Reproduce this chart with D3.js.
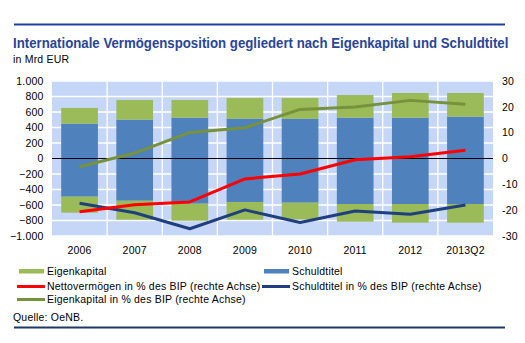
<!DOCTYPE html>
<html><head><meta charset="utf-8">
<script src="https://cdn.jsdelivr.net/npm/d3@7"></script>
<style>body{margin:0;background:#fff}svg{display:block;font-family:"Liberation Sans",Arial,sans-serif}</style>
</head><body><svg id="c" width="525" height="343"></svg>
<script>
const categories = ["2006","2007","2008","2009","2010","2011","2012","2013Q2"];
// Mrd EUR (left axis), stacked: positive (Aktiva) and negative (Passiva)
const schuldtitelAktiva   = [449, 501, 527, 514, 514, 527, 527, 540];
const eigenkapitalAktiva  = [203, 254, 228, 267, 267, 292, 318, 305];
const schuldtitelPassiva  = [-493, -545, -583, -561, -570, -587, -587, -587];
const eigenkapitalPassiva = [-206, -245, -220, -229, -216, -228, -241, -241];
// % des BIP (right axis)
const nettoPct        = [-20.6, -17.9, -16.8, -7.9, -6.0, -0.5, 0.7, 3.2];
const schuldtitelPct  = [-17.3, -21.0, -27.2, -19.9, -24.8, -20.3, -21.6, -18.0];
const eigenkapitalPct = [-3.2, 2.1, 10.1, 11.9, 19.0, 19.9, 22.5, 21.0];
const leftTicks  = [-1000,-800,-600,-400,-200,0,200,400,600,800,1000];
const rightTicks = [-30,-20,-10,0,10,20,30];

const C = {green:"#9bbb59", blue:"#4f81bd", red:"#ff0000", navy:"#1f3f7f", olive:"#76923c", bg:"#c6d6f6"};
const svg = d3.select("#c");
const L=52, R=493, T=81, B=236;
const x = d3.scaleBand().domain(categories).range([L,R]).padding(0);
const y = d3.scaleLinear().domain([-1000,1000]).range([B,T]);
const y2 = d3.scaleLinear().domain([-30,30]).range([B,T]);
const fmt = d => d3.format(",")(d).replace(/,/g,".");
const FS = 10.5, LS = 0.2;

// rules and titles
svg.append("rect").attr("x",14).attr("y",23.5).attr("width",491).attr("height",2).attr("fill","#1f3f9f");
const title = svg.append("text").attr("x",0).attr("y",0).attr("font-size",14).attr("font-weight","bold").attr("fill","#2a4596")
  .text("Internationale Vermögensposition gegliedert nach Eigenkapital und Schuldtitel");
const tw = title.node().getComputedTextLength();
title.attr("transform",`translate(13,47.5) scale(${Math.min(1,496/tw)},1)`);
svg.append("text").attr("x",13).attr("y",63).attr("font-size",FS).attr("letter-spacing",LS).attr("fill","#000").text("in Mrd EUR");

// plot bg
svg.append("rect").attr("x",L).attr("y",T).attr("width",R-L).attr("height",B-T).attr("fill",C.bg);
// grid
svg.append("g").selectAll("line").data(leftTicks.filter(t=>t!==0)).join("line")
  .attr("x1",L).attr("x2",R).attr("y1",d=>y(d)).attr("y2",d=>y(d)).attr("stroke","#fff").attr("stroke-width",1.3);
svg.append("g").selectAll("line").data(categories.slice(1)).join("line")
  .attr("x1",d=>x(d)).attr("x2",d=>x(d)).attr("y1",T).attr("y2",B).attr("stroke","#fff").attr("stroke-width",1.3);

// bars
const bw = x.bandwidth()*0.666, off = (x.bandwidth()-bw)/2;
const bars = svg.append("g");
categories.forEach((c,i)=>{
  const segs = [
    [0, schuldtitelAktiva[i], C.blue],
    [schuldtitelAktiva[i], schuldtitelAktiva[i]+eigenkapitalAktiva[i], C.green],
    [schuldtitelPassiva[i], 0, C.blue],
    [schuldtitelPassiva[i]+eigenkapitalPassiva[i], schuldtitelPassiva[i], C.green]
  ];
  segs.forEach(([a,b,col])=>{
    bars.append("rect").attr("x",x(c)+off).attr("width",bw)
      .attr("y",y(b)).attr("height",y(a)-y(b)).attr("fill",col);
  });
});
// zero line
svg.append("line").attr("x1",L).attr("x2",R).attr("y1",y(0)).attr("y2",y(0)).attr("stroke","#000").attr("stroke-width",1);

// lines
const cx = c => x(c)+x.bandwidth()/2;
const line = d3.line().x((d,i)=>cx(categories[i])).y(d=>y2(d));
[[eigenkapitalPct,C.olive],[schuldtitelPct,C.navy],[nettoPct,C.red]].forEach(([arr,col])=>{
  svg.append("path").attr("d",line(arr)).attr("fill","none").attr("stroke",col).attr("stroke-width",3).attr("stroke-linejoin","round");
});

// axes labels
svg.append("g").selectAll("text").data(leftTicks).join("text")
  .attr("x",43.5).attr("y",d=>y(d)+3.7).attr("text-anchor","end").attr("font-size",FS).attr("letter-spacing",LS).text(fmt);
svg.append("g").selectAll("text").data(rightTicks).join("text")
  .attr("x",502).attr("y",d=>y2(d)+3.7).attr("text-anchor","start").attr("font-size",FS).attr("letter-spacing",LS).text(d=>d);
svg.append("g").selectAll("text").data(categories).join("text")
  .attr("x",d=>cx(d)).attr("y",254).attr("text-anchor","middle").attr("font-size",FS).attr("letter-spacing",LS).text(d=>d);

// legend
const lg = svg.append("g").attr("font-size",FS).attr("letter-spacing",LS);
function item(xs, yy, type, col, label){
  if(type==="rect") lg.append("rect").attr("x",xs+2).attr("y",yy-2.5).attr("width",25).attr("height",4.5).attr("fill",col);
  else lg.append("line").attr("x1",xs).attr("x2",xs+28).attr("y1",yy).attr("y2",yy).attr("stroke",col).attr("stroke-width",3);
  lg.append("text").attr("x",xs+30).attr("y",yy+3.7).text(label);
}
item(17,271.5,"rect",C.green,"Eigenkapital");
item(262,271.5,"rect",C.blue,"Schuldtitel");
item(17,286.5,"line",C.red,"Nettovermögen in % des BIP (rechte Achse)");
item(262,286.5,"line",C.navy,"Schuldtitel in % des BIP (rechte Achse)");
item(17,299.5,"line",C.olive,"Eigenkapital in % des BIP (rechte Achse)");

svg.append("text").attr("x",13).attr("y",320.5).attr("font-size",FS).attr("letter-spacing",LS).text("Quelle: OeNB.");
svg.append("rect").attr("x",14).attr("y",326.5).attr("width",491).attr("height",2).attr("fill","#1f3864");
</script></body></html>
